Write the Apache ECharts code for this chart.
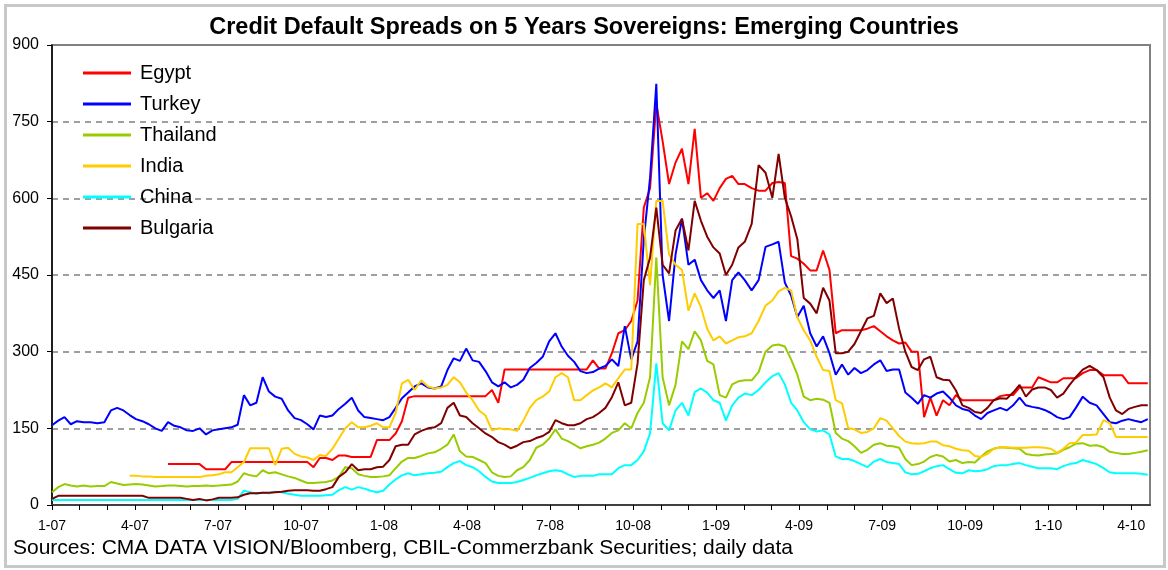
<!DOCTYPE html>
<html>
<head>
<meta charset="utf-8">
<title>Credit Default Spreads on 5 Years Sovereigns: Emerging Countries</title>
<script src="https://cdn.jsdelivr.net/npm/echarts@6/dist/echarts.min.js"></script>
<style>
  html, body { margin: 0; padding: 0; background: #fff; }
  #chart { width: 1168px; height: 570px; }
</style>
</head>
<body>
<div id="chart"></div>
<script>
// weekly readings of the daily series, first week = 1 Jan 2007
const startDate = Date.UTC(2007, 0, 1);
const weekCount = 173;

const quarterLabels = ["1-07", "4-07", "7-07", "10-07", "1-08", "4-08", "7-08",
  "10-08", "1-09", "4-09", "7-09", "10-09", "1-10", "4-10"];

const countries = ["Egypt", "Turkey", "Thailand", "India", "China", "Bulgaria"];

const egypt = [
  null, null, null, null, null, null, null, null, null, null,
  null, null, null, null, null, null, null, null,
  80, 80, 80, 80, 80, 80, 70, 70, 70, 70,
  84, 84, 84, 84, 84, 84, 84, 84, 84, 84,
  84, 84, 84, 74, 92, 92, 88, 97, 97, 94,
  94, 94, 94, 127, 127, 127, 140, 164, 210, 213,
  213, 213, 213, 213, 213, 213, 213, 213, 213, 213,
  213, 225, 200, 265, 265, 265, 265, 265, 265, 265,
  265, 265, 265, 265, 265, 265, 265, 283, 267, 267,
  297, 336, 342, 360, 400, 582, 620, 785, 712, 628,
  670, 697, 628, 736, 601, 610, 595, 620, 638, 644,
  628, 628, 620, 615, 615, 630, 632, 630, 487, 482,
  472, 459, 459, 498, 460, 336, 342, 342, 342, 342,
  345, 350, 340, 330, 322, 316, 318, 300, 300, 172,
  210, 175, 205, 195, 215, 205, 205, 205, 205, 205,
  205, 213, 215, 215, 230, 230, 230, 250, 245, 240,
  240, 248, 248, 248, 258, 264, 264, 254, 254, 254,
  254, 238, 238, 238, 238
];

const turkey = [
  156, 165, 172, 158, 164, 162, 162, 160, 162, 185,
  190, 185, 176, 168, 164, 158, 150, 145, 162, 155,
  152, 146, 145, 150, 138, 146, 148, 150, 152, 157,
  215, 195, 200, 250, 222, 212, 208, 185, 170, 166,
  158, 148, 175, 172, 175, 188, 198, 210, 185, 172,
  170, 168, 166, 172, 190, 209, 220, 232, 238, 230,
  228, 232, 264, 287, 282, 306, 283, 280, 262, 240,
  232, 240, 230, 235, 245, 268, 278, 290, 320, 336,
  310, 292, 280, 262, 258, 260, 267, 272, 285, 272,
  350, 285, 320, 520, 640, 824, 450, 360, 490, 560,
  470, 480, 440, 420, 405, 420, 360, 440, 455, 440,
  420, 440, 505, 510, 515, 435, 410, 368, 390, 336,
  310, 330, 297, 255, 275, 255, 268, 258, 264, 275,
  283, 262, 265, 265, 220, 210, 198, 215, 210, 218,
  222, 210, 195, 188, 185, 175, 168, 180, 185, 190,
  185, 195, 210, 195, 192, 190, 186, 180, 172, 168,
  172, 190, 212, 200, 195, 178, 162, 160, 165, 168,
  165, 162, 168
];

const thailand = [
  25, 35, 41, 38, 36, 38, 36, 37, 37, 45,
  42, 39, 40, 41, 40, 38, 36, 37, 38, 38,
  37, 36, 37, 37, 38, 37, 38, 39, 40, 46,
  62, 58, 56, 68, 62, 64, 60, 56, 53, 48,
  43, 43, 44, 45, 48, 55, 74, 72, 60, 57,
  55, 55, 56, 58, 72, 85, 92, 92, 96, 101,
  103, 110, 118, 138, 105, 95, 94, 88, 82, 64,
  57, 55, 56, 68, 74, 88, 112, 118, 130, 148,
  130, 125, 118, 111, 115, 118, 122, 130, 141, 146,
  160, 150, 180, 200, 250, 484, 250, 195, 235, 320,
  305, 340, 322, 282, 275, 215, 210, 236, 242, 244,
  244, 260, 300, 312, 314, 310, 285, 255, 212, 205,
  208, 206, 200, 141, 130, 125, 115, 102, 108, 118,
  121, 116, 115, 112, 90, 78, 80, 85, 94, 98,
  95, 85, 88, 82, 84, 83, 95, 105, 110, 113,
  112, 111, 110, 100, 98, 97, 99, 100, 101, 108,
  113, 120, 121, 116, 117, 113, 104, 102, 100, 100,
  102, 104, 107
];

const india = [
  null, null, null, null, null, null, null, null, null, null,
  null, null,
  57, 57, 56, 56, 55, 55, 55, 55, 55, 55,
  55, 55, 57, 58, 60, 64, 64, 74, 84, 111,
  111, 111, 111, 78, 110, 112, 100, 95, 93, 88,
  98, 96, 110, 130, 150, 162, 152, 152, 155, 160,
  152, 152, 180, 238, 245, 225, 244, 232, 228, 230,
  235, 250, 240, 220, 205, 185, 175, 146, 150, 148,
  148, 145, 165, 190, 205, 212, 222, 250, 258, 250,
  205, 205, 215, 224, 230, 238, 230, 248, 265, 265,
  550, 550, 430, 595, 595, 490, 470, 460, 380, 414,
  387, 345, 322, 330, 316, 322, 328, 330, 336, 360,
  390, 400, 418, 425, 420, 367, 342, 322, 290, 264,
  262, 205, 199, 150, 148, 141, 143, 150, 170, 165,
  150, 135, 124, 121, 120, 121, 124, 124, 117, 115,
  110, 107, 106, 96, 94, 100, 110, 113, 113, 112,
  112, 112, 113, 113, 112, 110, 102, 110, 121, 122,
  137, 137, 138, 166, 160, 133, 133, 133, 133, 133,
  133
];

const china = [
  10, 10, 10, 10, 10, 10, 10, 10, 10, 10,
  10, 10, 10, 10, 10, 10, 10, 10, 10, 10,
  10, 10, 10, 10, 10, 10, 10, 10, 10, 12,
  28, 25, 22, 24, 23, 26, 25, 22, 20, 18,
  18, 18, 18, 19, 20, 29, 35, 30, 35, 32,
  28, 25, 28, 40, 50, 58, 62, 58, 60, 62,
  63, 65, 74, 82, 86, 78, 74, 66, 55, 46,
  43, 43, 43, 45, 49, 53, 58, 62, 66, 68,
  66, 60, 55, 57, 57, 57, 60, 60, 60, 72,
  78, 78, 88, 105, 140, 277, 160, 146, 185, 200,
  175, 221, 228, 220, 205, 200, 165, 195, 210, 218,
  215, 225, 240, 252, 258, 236, 200, 185, 162, 148,
  144, 146, 138, 95, 90, 90, 86, 80, 74, 85,
  90, 84, 82, 80, 64, 60, 61, 66, 72, 76,
  78, 70, 63, 62, 68, 66, 67, 70, 76, 78,
  78, 80, 82, 78, 75, 72, 72, 72, 70, 76,
  80, 82, 88, 84, 80, 72, 64, 62, 62, 62,
  62, 61, 59
];

const bulgaria = [
  12, 18, 18, 18, 18, 18, 18, 18, 18, 18,
  18, 18, 18, 18, 18, 14, 14, 14, 14, 14,
  14, 12, 10, 12, 9, 11, 14, 14, 14, 15,
  20, 23, 23, 24, 24, 25, 26, 28, 29, 29,
  29, 28, 28, 31, 35, 55, 64, 80, 68, 70,
  70, 74, 75, 88, 115, 118, 118, 138, 145, 150,
  152, 160, 190, 200, 175, 172, 160, 150, 140, 133,
  123, 118, 111, 116, 123, 125, 131, 135, 143, 166,
  160, 156, 156, 160, 168, 172, 180, 190, 211, 240,
  195, 200, 277, 440, 484, 582, 470, 453, 537, 560,
  498, 595, 556, 525, 504, 492, 450, 470, 504, 515,
  550, 665, 650, 601, 687, 601, 565, 520, 405, 394,
  375, 425, 400, 297, 297, 300, 315, 340, 365, 370,
  414, 395, 404, 345, 300, 270, 264, 285, 290, 250,
  245, 244, 224, 195, 190, 182, 180, 190, 205, 209,
  208, 220, 235, 212, 226, 230, 230, 225, 210, 218,
  235, 250, 265, 272, 264, 250, 210, 185, 178, 188,
  192, 195, 195
];

const seriesValues = [egypt, turkey, thailand, india, china, bulgaria];
const colors = ["#ff0000", "#0000ff", "#99cc00", "#ffcc00", "#00ffff", "#800000"];

// months since Jan 2007 (x axis unit), so monthly ticks fall on month starts
function monthPos(t) {
  const d = new Date(t);
  const y = d.getUTCFullYear(), m = d.getUTCMonth();
  const days = new Date(Date.UTC(y, m + 1, 0)).getUTCDate();
  return (y - 2007) * 12 + m + (d.getUTCDate() - 1) / days;
}

const weekPos = [];
for (let i = 0; i < weekCount; i++) {
  weekPos.push(monthPos(startDate + i * 7 * 86400000));
}

function toPoints(values) {
  return values
    .map((v, i) => [weekPos[i], v])
    .filter(p => p[1] !== null);
}

const font = "Liberation Sans, Arial, sans-serif";

let option = {
  animation: false,
  color: colors,
  textStyle: { fontFamily: font },
  title: {
    text: "Credit Default Spreads on 5 Years Sovereigns: Emerging Countries",
    left: "center",
    top: 11,
    textStyle: { fontSize: 23.5, fontWeight: "bold", color: "#000", fontFamily: font },
  },
  legend: {
    orient: "vertical",
    left: 83,
    top: 63,
    padding: 0,
    icon: "rect",
    itemWidth: 48,
    itemHeight: 3,
    itemGap: 11,
    data: countries,
    textStyle: { fontSize: 20, color: "#000", lineHeight: 20, padding: [0, 0, 0, 4] },
  },
  grid: {
    left: 52,
    right: 18,
    top: 45,
    bottom: 65,
    show: true,
    borderColor: "#808080",
    borderWidth: 2,
  },
  xAxis: {
    type: "value",
    min: 0,
    max: 39.68,
    interval: 1,
    axisLine: { lineStyle: { color: "#404040", width: 2 } },
    axisTick: { length: 5, lineStyle: { color: "#000" } },
    axisLabel: {
      fontSize: 14,
      color: "#000",
      margin: 14,
      showMaxLabel: false,
      formatter: function (v) {
        return v % 3 === 0 ? quarterLabels[v / 3] : "";
      },
    },
    splitLine: { show: false },
  },
  yAxis: {
    type: "value",
    min: 0,
    max: 900,
    interval: 150,
    axisLine: { show: true, lineStyle: { color: "#000", width: 1.5 } },
    axisTick: { show: true, length: 5, lineStyle: { color: "#000" } },
    axisLabel: { fontSize: 16, color: "#000", margin: 13 },
    splitLine: { lineStyle: { color: "#808080", type: [6, 5], width: 1.5 } },
  },
  graphic: [
    {
      type: "rect",
      shape: { x: 5.5, y: 5.5, width: 1159, height: 561 },
      style: { fill: "none", stroke: "#c8c8c8", lineWidth: 3 },
      silent: true,
    },
    {
      type: "text",
      left: 13,
      top: 538,
      style: {
        text: "Sources: CMA DATA VISION/Bloomberg, CBIL-Commerzbank Securities; daily data",
        font: "21px " + font,
        fill: "#000",
      },
    },
  ],
  series: countries.map((name, k) => ({
    name: name,
    type: "line",
    symbol: "none",
    data: toPoints(seriesValues[k]),
    lineStyle: { width: 2 },
  })),
};

let myChart = echarts.init(document.getElementById("chart"));
option && myChart.setOption(option);
</script>
</body>
</html>
